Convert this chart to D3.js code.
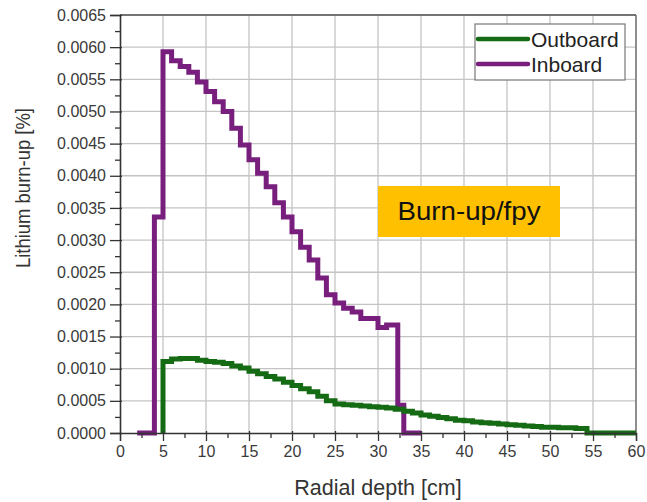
<!DOCTYPE html>
<html lang="en">
<head>
    <meta charset="UTF-8">
    <title>Lithium burn-up</title>
    <script src="https://cdn.jsdelivr.net/npm/d3@7"></script>
    <style>
        body { margin: 0; background: #fff; }
        text { font-family: Arial, "Liberation Sans", sans-serif; }
    </style>
</head>
<body>
    <script>
        const width = 647;
        const height = 502;

        // bin left edges (cm) and burn-up values (%)
        const inboardEdges = [2, 4, 5, 6, 7, 8, 9, 10, 11, 12, 13, 14, 15, 16, 17, 18, 19, 20, 21, 22, 23, 24, 25, 26, 27, 28, 30, 31, 32.3, 33, 35];
        const inboardValues = [0, 0.00336, 0.00593, 0.00579, 0.0057, 0.00561, 0.00546, 0.00531, 0.00515, 0.005, 0.00474, 0.00448, 0.00425, 0.00404, 0.00383, 0.00358, 0.00336, 0.00313, 0.00289, 0.00269, 0.00241, 0.00215, 0.00202, 0.00194, 0.00188, 0.00178, 0.00164, 0.00168, 0.00043, 0, 0];

        const outboardEdges = [5, 5, 6, 7, 8, 9, 10, 11, 12, 13, 14, 15, 16, 17, 18, 19, 20, 21, 22, 23, 24, 25, 26, 27, 28, 29, 30, 31, 32, 33, 34, 35, 36, 37, 38, 39, 40, 41, 42, 43, 44, 45, 46, 47, 48, 49, 50, 51, 52, 53, 54.3, 60];
        const outboardValues = [0, 0.00111, 0.00115, 0.00116, 0.00116, 0.00113, 0.00111, 0.0011, 0.00108, 0.00104, 0.00101, 0.00096, 0.00092, 0.00088, 0.00084, 0.00079, 0.00074, 0.00069, 0.00064, 0.00057, 0.0005, 0.00045, 0.00044, 0.00043, 0.00042, 0.00041, 0.0004, 0.00039, 0.00037, 0.00034, 0.00031, 0.00028, 0.00026, 0.00024, 0.00022, 0.0002, 0.00019, 0.00017, 0.00016, 0.00015, 0.00014, 0.00013, 0.00012, 0.00011, 0.0001, 0.00009, 0.00009, 0.00008, 0.00008, 0.00007, 0, 0];

        const xTicks = [0, 5, 10, 15, 20, 25, 30, 35, 40, 45, 50, 55, 60];
        const yTicks = [0, 0.0005, 0.001, 0.0015, 0.002, 0.0025, 0.003, 0.0035, 0.004, 0.0045, 0.005, 0.0055, 0.006, 0.0065];

        const seriesNames = ['Outboard', 'Inboard'];
        const outboard_color = '#146b14';
        const inboard_color = '#781f7e';

        const plot = {left: 120, right: 636, top: 15, bottom: 433};

        var svg = d3.select('body')
                    .append('svg')
                    .attr('width', width)
                    .attr('height', height);

        var xScale = d3.scaleLinear().domain([0, 60]).range([plot.left, plot.right]);
        var yScale = d3.scaleLinear().domain([0, 0.0065]).range([plot.bottom, plot.top]);

        // grid
        var grid = svg.append('g');
        grid.selectAll('.vgrid')
            .data(xTicks.slice(1))
            .enter().append('line')
            .attr('x1', d => xScale(d)).attr('x2', d => xScale(d))
            .attr('y1', plot.top).attr('y2', plot.bottom)
            .attr('stroke', '#c4c4c4').attr('stroke-width', 1.3);
        grid.selectAll('.hgrid')
            .data(yTicks.slice(1))
            .enter().append('line')
            .attr('x1', plot.left).attr('x2', plot.right)
            .attr('y1', d => yScale(d)).attr('y2', d => yScale(d))
            .attr('stroke', '#c4c4c4').attr('stroke-width', 1.3);

        // frame top / right
        svg.append('line')
            .attr('x1', plot.left).attr('x2', plot.right)
            .attr('y1', plot.top).attr('y2', plot.top)
            .attr('stroke', '#555').attr('stroke-width', 1.5);
        svg.append('line')
            .attr('x1', plot.right).attr('x2', plot.right)
            .attr('y1', plot.top).attr('y2', plot.bottom)
            .attr('stroke', '#666').attr('stroke-width', 1.3);

        // data lines
        var stepLine = d3.line()
                        .x(d => xScale(d[0]))
                        .y(d => yScale(d[1]))
                        .curve(d3.curveStepAfter);

        svg.append('path')
            .datum(d3.zip(inboardEdges, inboardValues))
            .attr('d', stepLine)
            .attr('fill', 'none')
            .attr('stroke', inboard_color)
            .attr('stroke-width', 5);

        svg.append('path')
            .datum(d3.zip(outboardEdges, outboardValues))
            .attr('d', stepLine)
            .attr('fill', 'none')
            .attr('stroke', outboard_color)
            .attr('stroke-width', 5);

        // axes
        var xAxis = d3.axisBottom(xScale).tickValues(xTicks).tickSize(8).tickPadding(5).tickFormat(d3.format('d'));
        var gx = svg.append('g').attr('transform', 'translate(0,' + plot.bottom + ')').call(xAxis);
        gx.selectAll('.tick line').attr('y1', -2);
        gx.selectAll('.tick').filter(d => d === 0 || d === 60).select('line').remove();
        var xMinor = d3.axisBottom(xScale).tickValues([2.5, 7.5, 12.5, 17.5, 22.5, 27.5, 32.5, 37.5, 42.5, 47.5, 52.5, 57.5]).tickSize(5).tickFormat('');
        var gxm = svg.append('g').attr('transform', 'translate(0,' + plot.bottom + ')').call(xMinor);
        gxm.select('.domain').remove();

        var yAxis = d3.axisLeft(yScale).tickValues(yTicks).tickSize(10).tickPadding(4).tickFormat(d3.format('.4f'));
        var gy = svg.append('g').attr('transform', 'translate(' + plot.left + ',0)').call(yAxis);
        gy.selectAll('.tick line').attr('x1', 2);
        var yMinor = d3.axisLeft(yScale).tickValues([0.00025, 0.00075, 0.00125, 0.00175, 0.00225, 0.00275, 0.00325, 0.00375, 0.00425, 0.00475, 0.00525, 0.00575, 0.00625]).tickSize(5).tickFormat('');
        var gym = svg.append('g').attr('transform', 'translate(' + plot.left + ',0)').call(yMinor);
        gym.select('.domain').remove();

        svg.selectAll('.domain').attr('stroke', '#333').attr('stroke-width', 1.6);
        svg.selectAll('.tick line').attr('stroke', '#333').attr('stroke-width', 1.3);
        svg.selectAll('.tick text')
            .attr('font-size', 16)
            .attr('fill', '#3a3a3a')
            .style('font-family', 'Arial, "Liberation Sans", sans-serif');

        // axis titles
        svg.append('text')
            .attr('x', (plot.left + plot.right) / 2)
            .attr('y', 495)
            .attr('text-anchor', 'middle')
            .attr('font-size', 21.5)
            .attr('fill', '#333')
            .text('Radial depth [cm]');

        svg.append('text')
            .attr('transform', 'translate(30,188) rotate(-90)')
            .attr('text-anchor', 'middle')
            .attr('font-size', 20)
            .attr('textLength', 160)
            .attr('lengthAdjust', 'spacingAndGlyphs')
            .attr('fill', '#333')
            .text('Lithium burn-up [%]');

        // legend
        var legend = svg.append('g');
        legend.append('rect')
            .attr('x', 475).attr('y', 24).attr('width', 150).attr('height', 56)
            .attr('fill', '#fff').attr('stroke', '#777').attr('stroke-width', 1.2);
        var legendColors = [outboard_color, inboard_color];
        seriesNames.forEach(function(name, i){
            var ly = 39 + i * 25;
            legend.append('line')
                .attr('x1', 478).attr('x2', 528)
                .attr('y1', ly).attr('y2', ly)
                .attr('stroke', legendColors[i]).attr('stroke-width', 4.5)
                .attr('stroke-linecap', 'round');
            legend.append('text')
                .attr('x', 531).attr('y', ly + 7.5)
                .attr('font-size', 21)
                .attr('fill', '#222')
                .text(name);
        });

        // annotation box
        svg.append('rect')
            .attr('x', 378).attr('y', 186).attr('width', 182).attr('height', 51)
            .attr('fill', '#ffc000');
        svg.append('text')
            .attr('x', 469).attr('y', 220)
            .attr('text-anchor', 'middle')
            .attr('font-size', 25)
            .attr('textLength', 143)
            .attr('lengthAdjust', 'spacingAndGlyphs')
            .attr('fill', '#111')
            .text('Burn-up/fpy');
    </script>
</body>
</html>
